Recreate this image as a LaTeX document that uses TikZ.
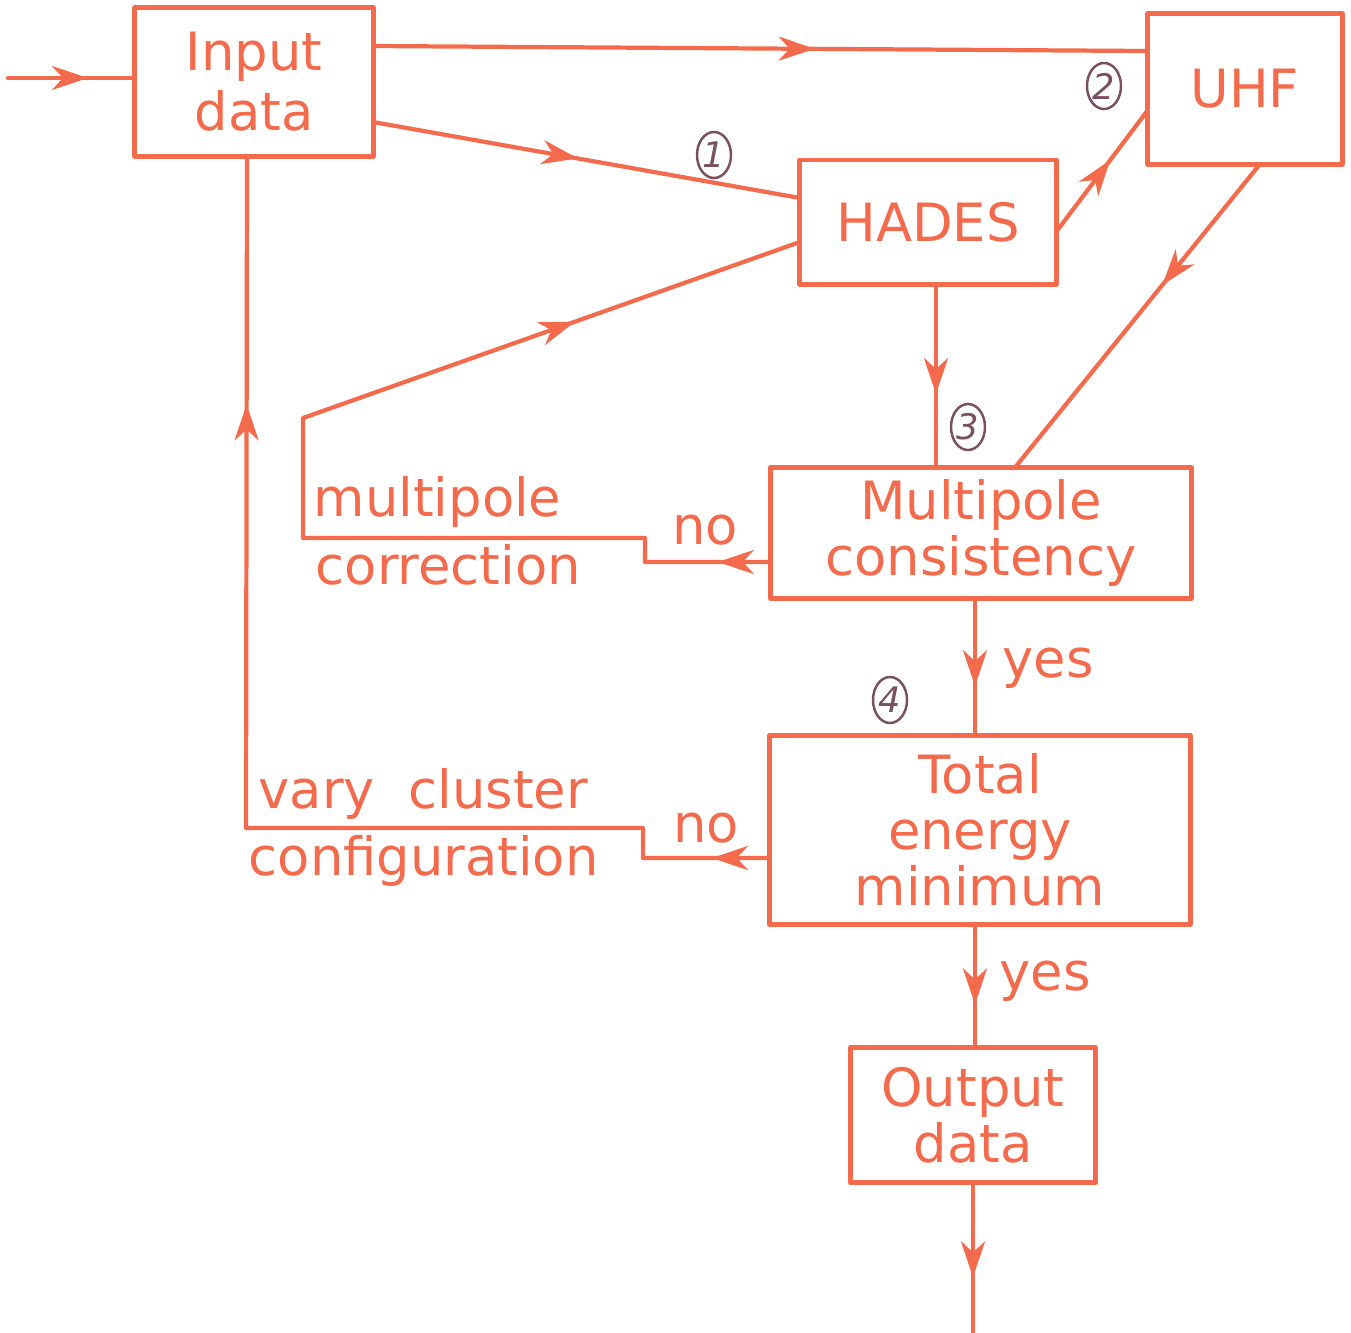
\documentclass[tikz,border=0pt]{standalone}
\usepackage{fontspec}
\setmainfont{DejaVu Sans}
\usetikzlibrary{arrows.meta}
\usetikzlibrary{decorations.markings}
\usetikzlibrary{shapes.geometric}
\definecolor{chartorange}{RGB}{243,106,76}
\definecolor{pencil}{RGB}{120,80,96}
\newcommand{\flowtip}{\arrow{Stealth[length=0.36cm, width=0.24cm, inset=0.11cm]}}

\begin{document}
\begin{tikzpicture}[line cap=round,line join=round, x=0.01cm, y=-0.01cm,
  box/.style={draw=chartorange, line width=1.4pt, inner sep=0pt, outer sep=0pt,
    align=center, text=chartorange, font=\fontsize{15}{16}\selectfont},
  flow/.style={draw=chartorange, line width=1.2pt},
  midarrow/.style={postaction={decorate},
    decoration={markings, mark=at position #1 with {\flowtip}}},
  twoarrows/.style 2 args={postaction={decorate},
    decoration={markings, mark=at position #1 with {\flowtip},
      mark=at position #2 with {\flowtip}}},
  lbl/.style={text=chartorange, inner sep=0pt, font=\fontsize{15}{16}\selectfont},
  stepno/.style={ellipse, draw=pencil, line width=0.7pt, text=pencil,
    minimum width=0.34cm, minimum height=0.46cm, inner sep=0pt,
    font=\normalsize\itshape}]
\useasboundingbox (0,0) rectangle (1351,1333);

% boxes
\node[box, minimum width=2.38cm, minimum height=1.48cm] (inp) at (254,82) {Input\\[1pt]data};
\node[box, minimum width=1.94cm, minimum height=1.50cm] (uhf) at (1245,89) {UHF};
\node[box, minimum width=2.56cm, minimum height=1.24cm] (hades) at (928,222) {HADES};
\node[box, minimum width=4.20cm, minimum height=1.31cm] (mpole) at (981,533) {Multipole\\consistency};
\node[box, minimum width=4.20cm, minimum height=1.89cm] (etot) at (980,830) {Total\\energy\\minimum};
\node[box, minimum width=2.45cm, minimum height=1.35cm] (outp) at (973,1115) {Output\\data};
\coordinate (start) at (8,78);
\coordinate (finish) at (973,1333);

% connectors
\draw[flow, midarrow=0.63] (start) -- (inp.west |- 0,78);
\draw[flow, midarrow=0.57] (inp.east |- 0,46) -- (uhf.west |- 0,51);
\draw[flow, midarrow=0.48] (inp.east |- 0,122) -- (hades.west |- 0,198);
\draw[flow, midarrow=0.59] (hades.east |- 0,232) -- (uhf.west |- 0,110);
\draw[flow, midarrow=0.40] (uhf.south -| 1260,0) -- (mpole.north -| 1015,0);
\draw[flow, midarrow=0.60] (hades.south -| 936,0) -- (mpole.north -| 936,0);
\draw[flow, midarrow=0.64] (mpole.south -| 975,0) -- (etot.north -| 975,0);
\draw[flow, midarrow=0.65] (etot.south -| 975,0) -- (outp.north -| 975,0);
\draw[flow, midarrow=0.63] (outp.south -| 973,0) -- (finish);
\draw[flow, twoarrows={0.53cm}{9.0cm}] (mpole.west |- 0,562) -- (645,562) -- (645,538)
  -- (303,538) -- (303,418) -- (hades.west |- 0,242);
\draw[flow, twoarrows={0.58cm}{9.77cm}] (etot.west |- 0,858) -- (643,858) -- (643,828)
  -- (246,828) -- (inp.south -| 247,0);

% labels
\node[lbl] (no1) at (705,530) {no};
\node[lbl] (no2) at (706,828) {no};
\node[lbl] (yes1) at (1048,668) {yes};
\node[lbl] (yes2) at (1045,981) {yes};
\node[lbl, anchor=base west] (mcorr1) at (313,516) {multipole};
\node[lbl, anchor=base west] (mcorr2) at (315,584) {correction};
\node[lbl, anchor=base west] (vary1) at (258,808) {vary\ \ cluster};
\node[lbl, anchor=base west] (vary2) at (248,875) {configuration};

% step numbers
\node[stepno] (s1) at (714,155) {1};
\node[stepno] (s2) at (1104,86) {2};
\node[stepno] (s3) at (968,427) {3};
\node[stepno] (s4) at (890,700) {4};
\end{tikzpicture}
\end{document}
